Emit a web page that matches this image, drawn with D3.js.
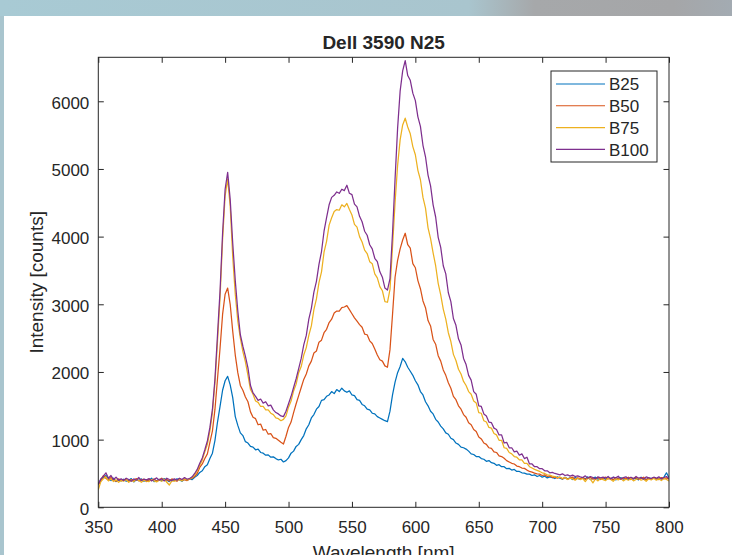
<!DOCTYPE html>
<html>
<head>
<meta charset="utf-8">
<script src="https://cdn.jsdelivr.net/npm/d3@7"></script>
<style>
    body { margin: 0; background: #fff; }
    svg { display: block; }
    text { font-family: "Liberation Sans", Arial, Helvetica, sans-serif; fill: #262626; }
</style>
</head>
<body>
<svg id="chart" width="732" height="555"></svg>
<script>
// spectra, one sample every 2 nm from 350 to 800
let wavelengths = d3.range(350, 801, 2);

let b25 = [
    350, 410, 445, 470, 420, 395, 430, 380, 405, 390,
    415, 385, 400, 425, 375, 410, 395, 420, 385, 405,
    400, 430, 380, 395, 415, 390, 425, 400, 380, 410,
    395, 420, 405, 385, 415, 400, 420, 410, 445, 470,
    515, 540, 600, 630, 720, 800, 990, 1260, 1490, 1730,
    1870, 1935, 1810, 1620, 1340, 1210, 1100, 1060, 970, 950,
    900, 890, 850, 860, 810, 800, 770, 775, 740, 745,
    720, 700, 710, 670, 690, 730, 800, 830, 900, 930,
    1000, 1060, 1160, 1220, 1320, 1370, 1450, 1490, 1580, 1590,
    1640, 1660, 1710, 1680, 1740, 1710, 1760, 1720, 1700, 1720,
    1660, 1650, 1590, 1580, 1520, 1500, 1450, 1440, 1390, 1380,
    1340, 1320, 1300, 1280, 1265, 1420, 1660, 1850, 1990, 2080,
    2200, 2150, 2070, 2010, 1950, 1870, 1810, 1710, 1660, 1560,
    1500, 1420, 1380, 1300, 1260, 1200, 1160, 1100, 1080, 1020,
    1000, 950, 930, 890, 880, 860, 830, 790, 780, 750,
    750, 720, 710, 680, 690, 660, 650, 620, 630, 600,
    600, 570, 575, 550, 560, 530, 530, 510, 505, 490,
    490, 470, 480, 455, 470, 445, 460, 435, 450, 440,
    425, 450, 430, 415, 445, 420, 435, 410, 440, 425,
    415, 440, 420, 450, 410, 430, 445, 415, 425, 440,
    410, 435, 420, 445, 405, 430, 440, 415, 425, 410,
    440, 420, 430, 405, 445, 420, 410, 435, 425, 440,
    415, 430, 420, 445, 510, 440
];

let b50 = [
    330, 390, 470, 430, 400, 440, 405, 385, 420, 395,
    400, 420, 380, 410, 395, 425, 390, 405, 415, 380,
    410, 395, 420, 385, 405, 430, 395, 410, 390, 420,
    405, 385, 425, 400, 410, 395, 420, 430, 455, 500,
    590, 640, 720, 790, 960, 1130, 1450, 1900, 2350, 2850,
    3150, 3240, 3000, 2600, 2250, 1990, 1800, 1730, 1630, 1560,
    1410, 1330, 1310, 1220, 1230, 1140, 1150, 1080, 1090, 1030,
    1020, 990, 960, 935, 1050, 1180, 1260, 1400, 1530, 1650,
    1770, 1890, 1970, 2090, 2160, 2280, 2310, 2440, 2470, 2580,
    2630, 2730, 2780, 2870, 2900, 2900, 2950, 2960, 2980, 2920,
    2860, 2800, 2750, 2700, 2660, 2560, 2550, 2460, 2420, 2340,
    2250, 2180, 2160, 2090, 2070, 2330, 2850, 3400, 3650, 3820,
    3950, 4050, 3880, 3830, 3600, 3540, 3350, 3230, 3050, 2950,
    2760, 2680, 2480, 2410, 2240, 2160, 2030, 1950, 1840, 1760,
    1640, 1590, 1500, 1450, 1370, 1330, 1250, 1220, 1150, 1120,
    1040, 1010, 950, 930, 880, 870, 820, 810, 760, 750,
    725, 690, 670, 650, 640, 610, 600, 580, 575, 550,
    530, 520, 505, 495, 490, 470, 480, 455, 465, 440,
    450, 430, 445, 420, 440, 415, 430, 445, 410, 435,
    420, 440, 410, 430, 445, 415, 425, 440, 410, 430,
    445, 420, 430, 405, 440, 425, 415, 435, 420, 445,
    410, 430, 440, 415, 425, 445, 405, 430, 420, 440,
    425, 410, 440, 420, 435, 415
];

let b75 = [
    260, 380, 420, 450, 390, 420, 380, 405, 370, 395,
    385, 410, 370, 400, 380, 415, 395, 370, 400, 385,
    380, 410, 390, 375, 400, 385, 415, 370, 330, 390,
    385, 400, 410, 390, 420, 405, 415, 440, 480, 540,
    620, 700, 820, 930, 1130, 1400, 1850, 2450, 3100, 3950,
    4600, 4850, 4450, 3700, 3150, 2750, 2500, 2300, 2150, 1950,
    1740, 1670, 1570, 1550, 1490, 1490, 1440, 1440, 1390, 1370,
    1320, 1310, 1280, 1300, 1350, 1480, 1570, 1720, 1820, 1990,
    2080, 2250, 2360, 2540, 2680, 2920, 3080, 3320, 3480, 3770,
    3930, 4170, 4280, 4370, 4400, 4390, 4470, 4440, 4490, 4400,
    4320, 4180, 4140, 4000, 3920, 3800, 3750, 3630, 3600, 3450,
    3390, 3260, 3200, 3040, 3030, 3220, 3850, 4500, 5050, 5430,
    5650, 5750, 5620, 5520, 5330, 5210, 4980, 4840, 4580, 4420,
    4130, 3970, 3760, 3570, 3310, 3140, 2930, 2780, 2580, 2450,
    2260, 2170, 2040, 1970, 1860, 1800, 1710, 1670, 1570, 1540,
    1400, 1390, 1280, 1260, 1180, 1170, 1090, 1070, 990, 990,
    880, 870, 810, 790, 750, 740, 700, 700, 650, 650,
    600, 580, 560, 545, 530, 510, 500, 480, 475, 460,
    455, 440, 445, 425, 440, 410, 430, 420, 400, 430,
    410, 425, 380, 430, 415, 360, 420, 390, 425, 410,
    395, 430, 410, 385, 420, 405, 430, 390, 415, 400,
    425, 390, 410, 430, 400, 415, 385, 420, 405, 430,
    400, 420, 395, 430, 410, 390
];

let b100 = [
    340, 420, 460, 510, 430, 470, 410, 445, 400, 420,
    395, 430, 410, 385, 420, 400, 440, 395, 415, 405,
    425, 390, 410, 435, 400, 420, 390, 430, 410, 395,
    420, 400, 430, 410, 440, 415, 425, 450, 500, 560,
    650, 730, 850, 980, 1180, 1450, 1900, 2550, 3200, 4050,
    4700, 4950, 4550, 3900, 3350, 2900, 2550, 2380, 2230, 2060,
    1800, 1690, 1640, 1580, 1600, 1540, 1560, 1500, 1510, 1440,
    1400, 1380, 1350, 1340, 1420, 1530, 1640, 1770, 1900, 2050,
    2200, 2400, 2540, 2780, 2940, 3180, 3340, 3590, 3780, 4080,
    4280, 4470, 4580, 4610, 4660, 4640, 4700, 4680, 4760, 4640,
    4620, 4480, 4440, 4300, 4220, 4080, 4020, 3880, 3820, 3680,
    3630, 3480, 3400, 3240, 3210, 3380, 4050, 4850, 5600, 6150,
    6450, 6600, 6380, 6310, 6120, 6010, 5770, 5630, 5350, 5180,
    4910, 4750, 4470, 4290, 3990, 3840, 3570, 3450, 3170, 3040,
    2790, 2690, 2490, 2400, 2200, 2110, 1950, 1880, 1710, 1670,
    1500, 1490, 1380, 1350, 1260, 1250, 1170, 1150, 1070, 1070,
    950, 960, 880, 880, 820, 830, 770, 790, 720, 740,
    640, 640, 600, 600, 570, 570, 540, 540, 510, 515,
    500, 490, 480, 495, 470, 480, 460, 475, 455, 465,
    450, 440, 465, 430, 455, 440, 420, 450, 435, 445,
    430, 455, 420, 445, 435, 460, 415, 440, 450, 425,
    445, 420, 455, 430, 440, 415, 450, 435, 425, 445,
    430, 450, 420, 440, 455, 425
];

let seriesNames  = ["B25", "B50", "B75", "B100"];
let seriesValues = [b25, b50, b75, b100];
let seriesColors = ["#0072BD", "#D95319", "#EDB120", "#7E2F8E"];

let xTickValues = [350, 400, 450, 500, 550, 600, 650, 700, 750, 800];
let yTickValues = [0, 1000, 2000, 3000, 4000, 5000, 6000];

let titleText = "Dell 3590 N25";
let xLabelText = "Wavelength [nm]";
let yLabelText = "Intensity [counts]";

(function drawChart() {
    let svg = d3.select("#chart");
    let plot = {left: 98.3, right: 669, top: 57.3, bottom: 507.3};
    let inkColor = "#262626";

    // window frame around the figure (screenshot edges)
    let grad = svg.append("defs").append("linearGradient").attr("id", "band");
    [["0%", "#a8cad4"], ["64%", "#a9c5ce"], ["73%", "#a6a8aa"], ["92%", "#a5a6a8"], ["100%", "#a3abb2"]]
        .forEach(s => grad.append("stop").attr("offset", s[0]).attr("stop-color", s[1]));
    svg.append("rect").attr("x", 0).attr("y", 0).attr("width", 732).attr("height", 16).attr("fill", "url(#band)");
    svg.append("rect").attr("x", 0).attr("y", 16).attr("width", 4).attr("height", 539).attr("fill", "#a9c5ce");

    svg.select("defs").append("clipPath").attr("id", "plotClip")
        .append("rect")
        .attr("x", plot.left).attr("y", plot.top)
        .attr("width", plot.right - plot.left).attr("height", plot.bottom - plot.top);

    let x = d3.scaleLinear().domain([350, 800]).range([plot.left, plot.right]);
    let y = d3.scaleLinear().domain([0, 6650]).range([plot.bottom, plot.top]);

    // spectra, B100 drawn last so it sits on top
    let line = d3.line().x((d, i) => x(wavelengths[i])).y(d => y(d));
    svg.append("g").attr("clip-path", "url(#plotClip)")
        .selectAll("path").data(seriesValues).join("path")
        .attr("d", line)
        .attr("fill", "none")
        .attr("stroke", (d, i) => seriesColors[i])
        .attr("stroke-width", 1.25)
        .attr("stroke-linejoin", "round");

    // axes: matlab style ticks pointing inwards on all four sides
    let tickLen = 5.5;
    let styleAxis = g => {
        g.select(".domain").remove();
        g.selectAll("line").attr("stroke", inkColor);
        g.selectAll("text").attr("fill", inkColor).style("font-size", "17px").attr("font-family", null);
    };
    svg.append("g").attr("transform", `translate(0,${plot.bottom})`)
        .call(d3.axisBottom(x).tickValues(xTickValues).tickFormat(d3.format("d"))
            .tickSizeInner(-tickLen).tickSizeOuter(0).tickPadding(13.5))
        .call(styleAxis);
    svg.append("g").attr("transform", `translate(0,${plot.top})`)
        .call(d3.axisTop(x).tickValues(xTickValues).tickSizeInner(-tickLen).tickSizeOuter(0).tickFormat(""))
        .call(styleAxis);
    svg.append("g").attr("transform", `translate(${plot.left},0)`)
        .call(d3.axisLeft(y).tickValues(yTickValues).tickFormat(d3.format("d"))
            .tickSizeInner(-tickLen).tickSizeOuter(0).tickPadding(9))
        .call(styleAxis)
        .selectAll("text").attr("dy", "0.41em");
    svg.append("g").attr("transform", `translate(${plot.right},0)`)
        .call(d3.axisRight(y).tickValues(yTickValues).tickSizeInner(-tickLen).tickSizeOuter(0).tickFormat(""))
        .call(styleAxis);

    svg.append("rect")
        .attr("x", plot.left).attr("y", plot.top)
        .attr("width", plot.right - plot.left).attr("height", plot.bottom - plot.top)
        .attr("fill", "none").attr("stroke", inkColor).attr("stroke-width", 1);

    // title and labels (the x label is cut by the bottom edge, as in the screenshot)
    let midX = (plot.left + plot.right) / 2;
    svg.append("text").attr("x", midX).attr("y", 49)
        .attr("text-anchor", "middle").style("font-size", "19px").style("font-weight", "bold")
        .text(titleText);
    svg.append("text").attr("x", midX).attr("y", 558.5)
        .attr("text-anchor", "middle").style("font-size", "19px")
        .text(xLabelText);
    svg.append("text")
        .attr("transform", `translate(43,${(plot.top + plot.bottom) / 2}) rotate(-90)`)
        .attr("text-anchor", "middle").style("font-size", "19px")
        .text(yLabelText);

    // legend box, top right
    let legend = svg.append("g");
    legend.append("rect").attr("x", 551).attr("y", 71).attr("width", 106).attr("height", 91)
        .attr("fill", "#fff").attr("stroke", inkColor).attr("stroke-width", 1);
    let rows = legend.selectAll("g.row").data(seriesNames).join("g")
        .attr("class", "row")
        .attr("transform", (d, i) => `translate(0,${84 + i * 21.8})`);
    rows.append("line").attr("x1", 556).attr("x2", 605)
        .attr("stroke", (d, i) => seriesColors[i]).attr("stroke-width", 1.1);
    rows.append("text").attr("x", 609).attr("dy", "0.36em")
        .style("font-size", "17px")
        .text(d => d);
})();
</script>
</body>
</html>
